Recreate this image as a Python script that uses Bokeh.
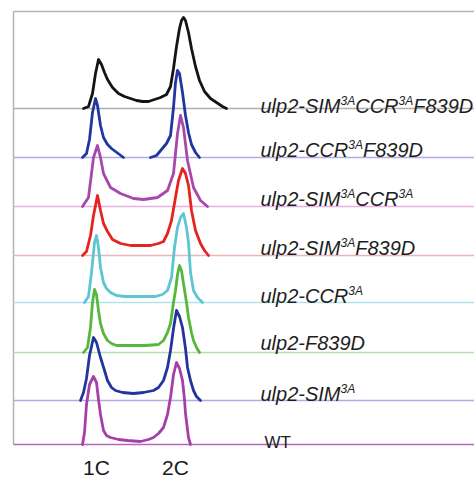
from bokeh.plotting import figure
from bokeh.models import Range1d, ColumnDataSource
from bokeh.core.properties import value
from bokeh.embed import file_html
from bokeh.resources import INLINE

# ---------------- data (bottom trace first) ----------------
strains = ["WT", "ulp2-SIM3A", "ulp2-F839D", "ulp2-CCR3A",
           "ulp2-SIM3AF839D", "ulp2-SIM3ACCR3A", "ulp2-CCR3AF839D",
           "ulp2-SIM3ACCR3AF839D"]

# label pieces: (text, superscript?)
label_parts = [
    [("WT", False)],
    [("ulp2-SIM", False), ("3A", True)],
    [("ulp2-F839D", False)],
    [("ulp2-CCR", False), ("3A", True)],
    [("ulp2-SIM", False), ("3A", True), ("F839D", False)],
    [("ulp2-SIM", False), ("3A", True), ("CCR", False), ("3A", True)],
    [("ulp2-CCR", False), ("3A", True), ("F839D", False)],
    [("ulp2-SIM", False), ("3A", True), ("CCR", False), ("3A", True), ("F839D", False)],
]

# vertical offset of each histogram (counts)
offsets = [0, 44, 92, 142, 189, 238, 287, 336]
label_y = [2, 51, 102, 149, 197, 246, 295, 339]

# DNA content axis (channel)
tick_pos = [96, 175]
tick_labels = ["1C", "2C"]

ch_wt = [82, 84, 86, 89, 93, 96, 98, 100, 103, 106, 110, 118, 127, 140, 148, 153, 158, 163, 167, 170, 173, 176, 179, 182, 184, 185, 187, 188, 190]
h_wt = [0, 12, 40, 60, 68, 62, 45, 30, 14, 9, 7, 5, 4, 3, 5, 7, 11, 17, 30, 47, 70, 82, 76, 64, 45, 31, 15, 7, 0]

ch_sim = [80, 83, 86, 89, 93, 96, 100, 104, 107, 111, 115, 122, 133, 143, 153, 158, 163, 167, 170, 173, 176, 179, 182, 185, 187, 190, 193, 196, 200]
h_sim = [0, 8, 22, 45, 63, 58, 43, 30, 20, 13, 10, 8, 7, 8, 10, 13, 20, 33, 50, 72, 90, 84, 73, 52, 33, 20, 10, 4, 0]

ch_f = [83, 87, 90, 92, 94, 96, 98, 100, 103, 107, 111, 116, 130, 145, 158, 163, 167, 170, 173, 175, 177, 179, 181, 183, 186, 188, 191, 193, 196, 199]
h_f = [0, 5, 25, 50, 63, 58, 42, 29, 19, 12, 9, 7, 7, 7, 8, 12, 20, 29, 50, 62, 78, 87, 82, 69, 50, 35, 20, 12, 5, 0]

ch_ccr = [84, 88, 91, 94, 96, 98, 100, 103, 106, 110, 116, 125, 140, 155, 162, 167, 171, 174, 177, 180, 183, 186, 188, 190, 193, 197, 202]
h_ccr = [0, 6, 30, 60, 67, 55, 35, 20, 14, 10, 7, 6, 6, 6, 8, 12, 25, 55, 75, 85, 89, 75, 60, 30, 12, 5, 0]

ch_simf = [82, 86, 90, 93, 97, 100, 103, 107, 112, 120, 130, 140, 150, 158, 163, 167, 171, 175, 178, 182, 185, 188, 191, 195, 200, 204, 208]
h_simf = [0, 4, 20, 40, 60, 45, 32, 24, 16, 12, 10, 10, 10, 12, 14, 22, 35, 58, 75, 87, 82, 70, 45, 25, 12, 5, 0]

ch_simccr = [82, 88, 93, 97, 100, 103, 110, 120, 133, 143, 157, 167, 173, 177, 180, 183, 187, 193, 200, 207]
h_simccr = [0, 9, 49, 61, 49, 33, 19, 13, 8, 7, 9, 16, 33, 73, 91, 79, 46, 19, 6, 0]

ch_ccrf = [82, 86, 89, 92, 95, 97, 100, 103, 107, 111, 115, 119, 123, 150, 156, 161, 166, 170, 173, 175, 177, 179, 182, 185, 188, 191, 195, 199]
h_ccrf = [0, 4, 18, 45, 59, 52, 32, 20, 13, 9, 6, 3, 0, 0, 2, 8, 14, 22, 50, 75, 87, 84, 65, 42, 25, 13, 5, 0]

ch_all = [83, 88, 92, 95, 98, 101, 104, 107, 112, 118, 124, 130, 136, 142, 148, 154, 160, 166, 170, 173, 176, 179, 181, 183, 185, 188, 191, 195, 199, 204, 210, 216, 222, 226]
h_all = [0, 2, 15, 35, 49, 44, 36, 29, 21, 15, 12, 10, 8, 7, 7, 9, 11, 14, 22, 40, 62, 80, 88, 91, 88, 76, 60, 42, 28, 17, 10, 6, 2, 0]

channels = [ch_wt, ch_sim, ch_f, ch_ccr, ch_simf, ch_simccr, ch_ccrf, ch_all]
heights = [h_wt, h_sim, h_f, h_ccr, h_simf, h_simccr, h_ccrf, h_all]

line_colors = ["#a63fa8", "#23349e", "#55b83a", "#5ec6d2", "#e52420", "#a848ac", "#2236a2", "#141414"]
base_colors = ["#b467b8", "#aeaee2", "#b6dfb0", "#b2e2ea", "#ebb6bb", "#e6b0e2", "#aeaee4", "#b0b0b0"]

# ---------------- figure ----------------
X0, X1 = 0, 474          # channel range shown
Y0, Y1 = -35, 444        # count range shown
FRAME_X = 13             # left edge of the histogram panel
FRAME_TOP = 433          # top edge of the histogram panel

p = figure(width=474, height=479, output_backend="svg", toolbar_location=None,
           x_range=Range1d(X0, X1), y_range=Range1d(Y0, Y1),
           x_axis_location=None, y_axis_location=None,
           min_border=0)
p.background_fill_color = "white"
p.border_fill_color = "white"
p.outline_line_color = None
p.xgrid.visible = False
p.ygrid.visible = False

# panel frame: top and left edges
p.segment(x0=[FRAME_X, FRAME_X], y0=[FRAME_TOP, offsets[0]], x1=[X1, FRAME_X], y1=[FRAME_TOP, FRAME_TOP],
          line_color="#b4b4b4", line_width=1.5)

# baselines
p.segment(x0=[FRAME_X] * len(offsets), y0=offsets, x1=[X1] * len(offsets), y1=offsets,
          line_color=base_colors, line_width=1.6)

# tick labels
p.text(x=tick_pos, y=[Y0] * len(tick_pos), text=tick_labels, y_offset=-1,
       text_align="center", text_baseline="bottom",
       text_font=value("Liberation Sans"), text_font_size="21px", text_color="#1a1a1a")

# histogram curves, thick only where not flat on the baseline
for ch, h, off, lc in zip(channels, heights, offsets, line_colors):
    runs_x, runs_y = [], []
    cx, cy = [], []
    for i in range(len(ch) - 1):
        if h[i] == 0 and h[i + 1] == 0:
            if cx:
                runs_x.append(cx); runs_y.append(cy); cx, cy = [], []
            continue
        if not cx:
            cx, cy = [ch[i]], [off + h[i]]
        cx.append(ch[i + 1]); cy.append(off + h[i + 1])
    if cx:
        runs_x.append(cx); runs_y.append(cy)
    p.multi_line(xs=runs_x, ys=runs_y, line_color=lc, line_width=2.8,
                 line_join="round", line_cap="round")

# labels
W = {'u': 556, 'l': 222, 'p': 556, '2': 556, '-': 333, 'S': 667, 'I': 278, 'M': 833,
     'C': 722, 'R': 722, 'F': 611, '8': 556, '3': 556, '9': 556, 'D': 722, 'A': 667,
     'W': 944, 'T': 611}
MAIN, SUP, RAISE = 20, 12, 5
LX = 260

main = dict(x=[], y=[], text=[], xo=[])
sup = dict(x=[], y=[], text=[], xo=[])
for parts, ly in zip(label_parts, label_y):
    if parts[0][0] == "WT":
        continue
    xo = 0.0
    for txt, is_sup in parts:
        d = sup if is_sup else main
        d["x"].append(LX); d["y"].append(ly); d["text"].append(txt); d["xo"].append(xo)
        xo += sum(W[c] for c in txt) * (SUP if is_sup else MAIN) / 1000.0

p.text(x="x", y="y", text="text", x_offset="xo", source=ColumnDataSource(main),
       text_font=value("Liberation Sans"), text_font_style="italic",
       text_font_size=f"{MAIN}px", text_color="#1e1e1e", text_baseline="alphabetic")
p.text(x="x", y="y", text="text", x_offset="xo", y_offset=-RAISE, source=ColumnDataSource(sup),
       text_font=value("Liberation Sans"), text_font_style="italic",
       text_font_size=f"{SUP}px", text_color="#1e1e1e", text_baseline="alphabetic")

wt_i = strains.index("WT")
p.text(x=[264], y=[label_y[wt_i]], text=[label_parts[wt_i][0][0]],
       text_font=value("Liberation Sans"), text_font_size="17px",
       text_color="#1e1e1e", text_baseline="alphabetic")

open("out.html", "w").write(file_html(p, INLINE))
